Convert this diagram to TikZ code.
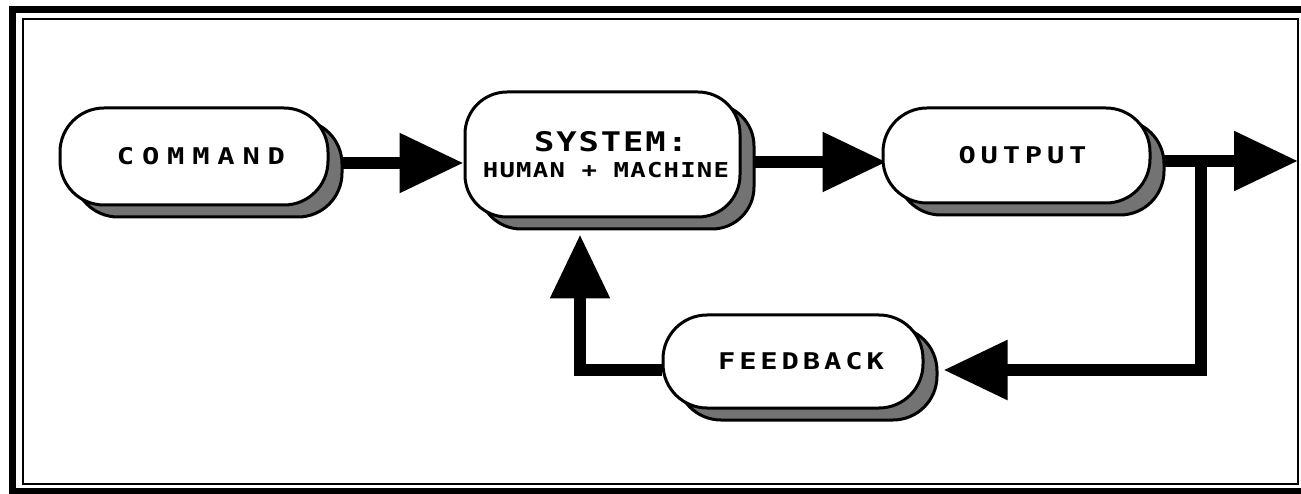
\documentclass[tikz,border=0pt]{standalone}
\usepackage{fontspec}
\newfontfamily\lblfont{DejaVu Sans Mono}
\usetikzlibrary{arrows.meta,shadows}
\pgfdeclarelayer{bg}
\pgfsetlayers{bg,main}
\newcommand\lbltext[3]{{\lblfont\bfseries\fontsize{#1}{#1}\selectfont\addfontfeature{LetterSpace=#2,FakeStretch=1.25}#3}}
\begin{document}
\begin{tikzpicture}[x=1pt,y=-1pt,
  blk/.style={draw=black, line width=3pt, fill=white, rounded corners=44pt, inner sep=0pt,
    drop shadow={shadow xshift=14pt, shadow yshift=-12pt, fill=black!55, draw=black, line width=3pt, opacity=1}},
  conn/.style={line width=12pt, -{Triangle[length=64pt,width=57pt]}},
  frameouter/.style={line width=7pt},
  frameinner/.style={line width=2.5pt}]
\useasboundingbox (0,0) rectangle (1301,494);
% frame
\draw[frameouter] (1320,10) -- (12,10) -- (12,491) -- (1320,491);
\draw[frameinner] (23,19) rectangle (1298,484);
% nodes
\node[blk, minimum width=268pt, minimum height=97pt] (command) at (194,156.5)
  {\kern 14pt\lbltext{23}{34}{COMMAND}};
\node[blk, minimum width=275pt, minimum height=125pt, rounded corners=42pt, align=center] (system) at (602.5,154.5)
  {\kern 17pt\lbltext{27}{7}{SYSTEM:}\\[9pt]\kern 7pt\lbltext{20.5}{6}{HUMAN + MACHINE}};
\node[blk, minimum width=267pt, minimum height=95pt] (output) at (1016.5,155.5)
  {\kern 12pt\lbltext{23}{21}{OUTPUT}};
\node[blk, minimum width=260pt, minimum height=93pt] (feedback) at (793,361.5)
  {\kern 16pt\lbltext{23}{17}{FEEDBACK}};
\coordinate (exit) at (1298,161);
\coordinate (branch) at (1201,161);
% connectors
\begin{pgfonlayer}{bg}
\draw[conn] ([yshift=-6.5pt]command.east) -- ([yshift=-8.5pt]system.west);
\draw[conn] ([yshift=-7.5pt]system.east) -- ([xshift=5pt,yshift=-6.5pt]output.west);
\draw[conn] ([yshift=-5.5pt]output.east) -- (exit);
\draw[conn] (branch) |- ([xshift=19pt,yshift=-8.5pt]feedback.east);
\draw[conn] ([yshift=-8.5pt]feedback.west) -| ([xshift=-22.5pt,yshift=-16pt]system.south);
\end{pgfonlayer}
\end{tikzpicture}
\end{document}
